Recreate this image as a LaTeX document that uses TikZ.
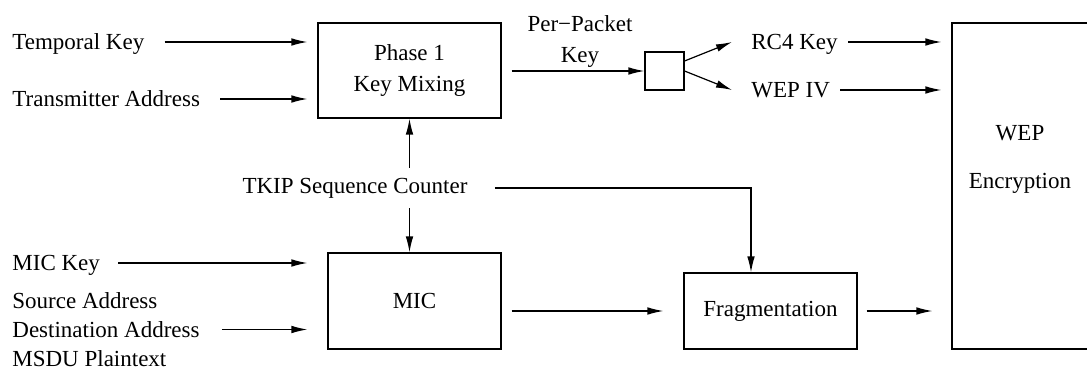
\documentclass[tikz,border=0pt]{standalone}
\usepackage{fontspec}
\setmainfont{Liberation Serif}
\usetikzlibrary{arrows.meta}
\tikzstyle{block} = [rectangle, draw = black, line width = 0.6pt, inner sep = 0pt, align = center]
\tikzstyle{txt} = [inner sep = 0pt, text depth = 0pt, anchor = west]
\tikzstyle{arrow} = [-{Latex[length = 8pt, width = 3.8pt]}, line width = 0.6pt]

\begin{document}
\begin{tikzpicture}[x = 0.5pt, y = -0.5pt, font = \fontsize{11.5}{15.5}\selectfont]
        \useasboundingbox (0, 0) rectangle (1087, 369);
        \clip (0, 0) rectangle (1087, 369);

        \node (phase) at (409.5, 70.5) [block, minimum width = 91.5pt, minimum height = 47.5pt] {Phase 1\\Key Mixing};
        \node (split) at (664.5, 71) [block, minimum width = 19.5pt, minimum height = 19pt] {};
        \node (wep) at (1026, 186) [block, minimum width = 74pt, minimum height = 163pt] {};
        \node (weptext) at (1020, 159) [align = center] {WEP\\[8.5pt]Encryption};
        \node (mic) at (414.5, 301) [block, minimum width = 86.5pt, minimum height = 48pt] {MIC};
        \node (frag) at (770.5, 311) [block, minimum width = 86.5pt, minimum height = 38pt] {Fragmentation};

        \node (temporal) at (12, 42) [txt] {Temporal Key};
        \node (transmitter) at (12, 99) [txt] {Transmitter Address};
        \node (mickey) at (12, 263) [txt] {MIC Key};
        \node (payload) at (12, 329.5) [inner sep = 0pt, anchor = west, align = left, font = \fontsize{11.5}{14.5}\selectfont] {Source Address\\Destination Address\\MSDU Plaintext};
        \node (tkip) at (355, 188) [inner sep = 5pt] {TKIP Sequence Counter};
        \node (perpacket) at (580, 42) [align = center] {Per−Packet\\Key};
        \node (rc) at (751, 42) [txt] {RC4 Key};
        \node (wepiv) at (751, 90) [txt] {WEP IV};

        % inputs
        \draw [arrow, shorten < = 10pt, shorten > = 5pt] (temporal.east) -- (temporal.east -| phase.west);
        \draw [arrow, shorten < = 10pt, shorten > = 5pt] (transmitter.east) -- (transmitter.east -| phase.west);
        \draw [arrow, shorten < = 9pt, shorten > = 5pt] (mickey.east) -- (mickey.east -| phase.west);
        \draw [arrow, shorten < = 11pt, shorten > = 5pt] (payload.east) -- (payload.east -| phase.west);

        % sequence counter
        \draw [arrow] (tkip.north -| phase.south) -- (phase.south);
        \draw [arrow] (tkip.south -| phase.south) -- (phase.south |- mic.north);
        \draw [arrow, shorten < = 8.5pt] (tkip.east) -| ([xshift = -9.75pt] frag.north);

        % key path
        \draw [arrow, shorten < = 5pt] (phase.east |- split.west) -- (split.west);
        \draw [arrow] ([yshift = 5pt] split.east) -- ([xshift = -9.5pt] rc.west);
        \draw [arrow] (split.east) -- ([xshift = -9.5pt] wepiv.west);
        \draw [arrow, shorten < = 5pt, shorten > = 5pt] (rc.east) -- (rc.east -| wep.west);
        \draw [arrow, shorten < = 5pt, shorten > = 5pt] (wepiv.east) -- (wepiv.east -| wep.west);

        % data path
        \draw [arrow, shorten < = 5pt, shorten > = 10pt] (mic.east |- frag.west) -- (frag.west);
        \draw [arrow, shorten < = 4.5pt, shorten > = 9.5pt] (frag.east) -- (frag.east -| wep.west);
\end{tikzpicture}
\end{document}
